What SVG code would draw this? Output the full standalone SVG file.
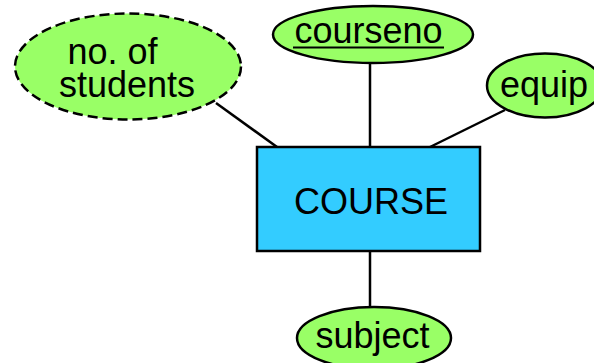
<svg xmlns="http://www.w3.org/2000/svg" width="594" height="363" viewBox="0 0 594 363">
  <style>
    .attr { fill: #99ff66; stroke: #000; stroke-width: 2.5; }
    .dashed { stroke-dasharray: 10 5; }
    .entity { fill: #33ccff; stroke: #000; stroke-width: 2.5; }
    .link { stroke: #000; stroke-width: 2.5; fill: none; }
    text { font-family: "Liberation Sans", Arial, sans-serif; font-size: 36px; fill: #000; }
  </style>
  <rect width="594" height="363" fill="#fff"/>

  <g id="connectors">
    <line class="link" x1="216" y1="103" x2="277" y2="147"/>
    <line class="link" x1="370" y1="63" x2="370" y2="147"/>
    <line class="link" x1="505" y1="110" x2="430" y2="147"/>
    <line class="link" x1="370" y1="251" x2="370" y2="307"/>
  </g>

  <g id="course">
    <rect class="entity" x="257" y="147" width="223" height="104"/>
    <text x="371" y="213.5" text-anchor="middle">COURSE</text>
  </g>

  <g id="no-of-students">
    <ellipse class="attr dashed" cx="128" cy="66.5" rx="113" ry="53"/>
    <text x="112.5" y="63.5" text-anchor="middle">no. of</text>
    <text x="127" y="97" text-anchor="middle">students</text>
  </g>

  <g id="courseno">
    <ellipse class="attr" cx="373" cy="34.5" rx="100" ry="28.5"/>
    <text x="368.5" y="43" text-anchor="middle">courseno</text>
    <line x1="293" y1="47.5" x2="444" y2="47.5" stroke="#000" stroke-width="2"/>
  </g>

  <g id="equip">
    <ellipse class="attr" cx="545" cy="85.5" rx="58" ry="32"/>
    <text x="544" y="97" text-anchor="middle">equip</text>
  </g>

  <g id="subject">
    <ellipse class="attr" cx="374" cy="338" rx="77" ry="31"/>
    <text x="372.5" y="348" text-anchor="middle">subject</text>
  </g>
</svg>
